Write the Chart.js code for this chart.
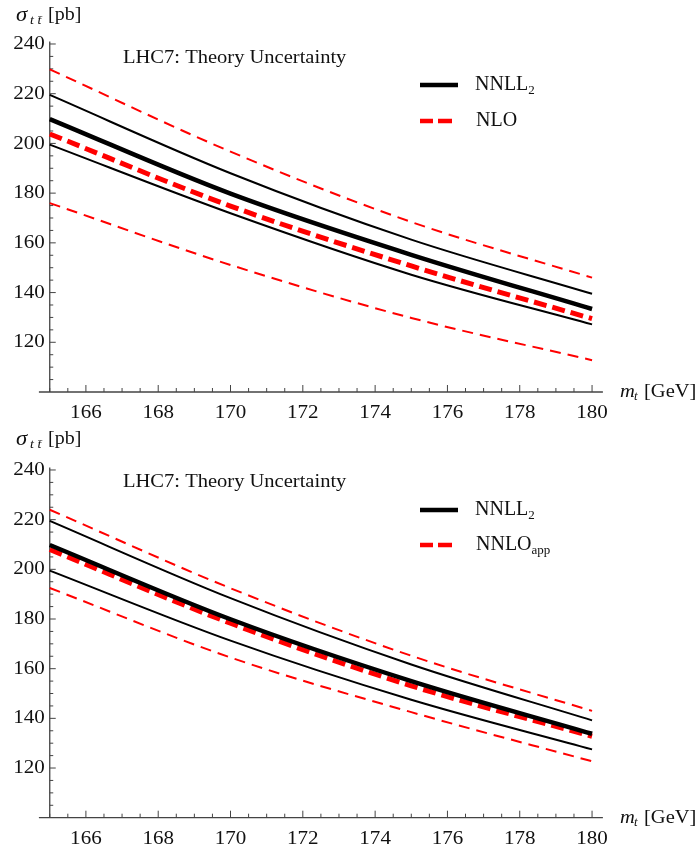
<!DOCTYPE html>
<html>
<head>
<meta charset="utf-8">
<script src="https://cdn.jsdelivr.net/npm/chart.js@4.4.1/dist/chart.umd.min.js"></script>
<style>
  body { margin: 0; background: #fff; }
  .panel { position: absolute; left: 0; width: 699px; }
</style>
</head>
<body>
<div class="panel" style="top:0;height:420px"><canvas id="topChart" width="699" height="420"></canvas></div>
<div class="panel" style="top:420px;height:429px"><canvas id="bottomChart" width="699" height="429"></canvas></div>
<script>
// top quark mass points (GeV) where the curves were read
var masses = [165, 170, 175, 180];
var xTicks = [166, 168, 170, 172, 174, 176, 178, 180];
var yTicks = [120, 140, 160, 180, 200, 220, 240];

// top panel: NNLL2 vs NLO
var nnllTop = [209.8, 179.8, 155.2, 133.4];
var nnllTopHigh = [219.5, 188.0, 161.3, 139.5];
var nnllTopLow = [199.5, 171.9, 147.2, 127.2];
var nlo = [203.8, 174.8, 150.7, 129.5];
var nloHigh = [229.8, 196.7, 168.4, 146.0];
var nloLow = [176.0, 151.1, 129.8, 112.8];

// bottom panel: NNLL2 vs NNLO_app
var nnllBot = [209.8, 179.9, 155.0, 133.8];
var nnllBotHigh = [219.5, 188.4, 161.7, 139.2];
var nnllBotLow = [199.5, 171.3, 147.5, 127.5];
var nnloApp = [208.0, 178.3, 153.1, 132.8];
var nnloAppHigh = [224.0, 192.4, 165.2, 143.0];
var nnloAppLow = [192.5, 164.5, 142.5, 122.7];

var SERIF = '"Liberation Serif", "DejaVu Serif", serif';
var STRETCH = 1.08;

function pts(vals) {
    return masses.map(function (m, i) { return { x: m, y: vals[i] }; });
}

function line(vals, color, width, dash) {
    return {
        data: pts(vals),
        borderColor: color,
        borderWidth: width,
        borderDash: dash || [],
        pointRadius: 0,
        fill: false,
        cubicInterpolationMode: 'monotone'
    };
}

function stretchedText(ctx, txt, x, y, size, style, align) {
    ctx.save();
    ctx.font = (style || '') + ' ' + size + 'px ' + SERIF;
    ctx.textBaseline = 'middle';
    ctx.textAlign = align || 'left';
    ctx.translate(x, y);
    ctx.scale(STRETCH, 1);
    ctx.fillText(txt, 0, 0);
    ctx.restore();
}

function axesPlugin(opts) {
    return {
        id: 'mmaAxes',
        beforeDatasetsDraw: function (chart) {
            var ctx = chart.ctx, xs = chart.scales.x, ys = chart.scales.y, area = chart.chartArea;
            var x0 = xs.getPixelForValue(165), y0 = ys.getPixelForValue(100);
            ctx.save();
            ctx.strokeStyle = '#444';
            ctx.lineWidth = 1.3;
            ctx.beginPath();
            ctx.moveTo(area.left, y0); ctx.lineTo(area.right, y0);
            ctx.moveTo(x0, area.top); ctx.lineTo(x0, y0);
            ctx.stroke();
            ctx.lineWidth = 1;
            ctx.beginPath();
            for (var v = 165; v <= 180.01; v += 0.5) {
                var px = xs.getPixelForValue(v);
                var len = xTicks.indexOf(v) >= 0 ? 7 : 4;
                ctx.moveTo(px, y0); ctx.lineTo(px, y0 - len);
            }
            for (var w = 105; w <= 240; w += 5) {
                var py = ys.getPixelForValue(w);
                var l2 = yTicks.indexOf(w) >= 0 ? 6 : 3.5;
                ctx.moveTo(x0, py); ctx.lineTo(x0 + l2, py);
            }
            ctx.stroke();
            ctx.fillStyle = '#111';
            xTicks.forEach(function (t) {
                stretchedText(ctx, String(t), xs.getPixelForValue(t), y0 + 21, 19.5, '', 'center');
            });
            yTicks.forEach(function (t) {
                stretchedText(ctx, String(t), x0 - 5, ys.getPixelForValue(t), 19.5, '', 'right');
            });
            ctx.restore();
        },
        afterDraw: function (chart) {
            var ctx = chart.ctx, ys = chart.scales.y;
            var y0 = ys.getPixelForValue(100);
            ctx.save();
            ctx.fillStyle = '#111';
            // y axis label: sigma_{t tbar} [pb]
            stretchedText(ctx, 'σ', 16, opts.labelY, 21, 'italic');
            stretchedText(ctx, 't t̄', 30, opts.labelY + 6, 13, 'italic');
            stretchedText(ctx, '[pb]', 48, opts.labelY, 18.5);
            // x axis label: m_t [GeV]
            stretchedText(ctx, 'm', 620, y0, 19, 'italic');
            stretchedText(ctx, 't', 634, y0 + 5, 12, 'italic');
            stretchedText(ctx, '[GeV]', 644, y0, 19);
            // title
            stretchedText(ctx, 'LHC7: Theory Uncertainty', 123, opts.titleY, 19);
            // legend
            ctx.lineCap = 'butt';
            ctx.strokeStyle = '#000';
            ctx.lineWidth = 4.5;
            ctx.beginPath();
            ctx.moveTo(420, opts.legY1); ctx.lineTo(458, opts.legY1);
            ctx.stroke();
            ctx.strokeStyle = '#ff0000';
            ctx.lineWidth = 4.5;
            ctx.beginPath();
            ctx.moveTo(420, opts.legY2); ctx.lineTo(433, opts.legY2);
            ctx.moveTo(438, opts.legY2); ctx.lineTo(452, opts.legY2);
            ctx.stroke();
            ctx.fillStyle = '#111';
            ctx.font = '20px ' + SERIF;
            ctx.textBaseline = 'middle';
            ctx.fillText('NNLL', 475, opts.legY1);
            var w1 = ctx.measureText('NNLL').width;
            ctx.font = '13px ' + SERIF;
            ctx.fillText('2', 475 + w1, opts.legY1 + 6);
            ctx.font = '20px ' + SERIF;
            ctx.fillText(opts.redLabel, 476, opts.legY2);
            if (opts.redSub) {
                var w2 = ctx.measureText(opts.redLabel).width;
                ctx.font = '13px ' + SERIF;
                ctx.fillText(opts.redSub, 476 + w2, opts.legY2 + 6);
            }
            ctx.restore();
        }
    };
}

function makePanel(id, sets, pad, opts) {
    var ctx = document.getElementById(id).getContext('2d');
    return new Chart(ctx, {
        type: 'line',
        data: { datasets: sets },
        options: {
            responsive: false,
            animation: false,
            devicePixelRatio: 1,
            layout: { padding: pad },
            plugins: { legend: { display: false }, tooltip: { enabled: false } },
            scales: {
                x: { type: 'linear', display: false, min: 164.7, max: 180.3 },
                y: { type: 'linear', display: false, min: 100, max: 241 }
            }
        },
        plugins: [axesPlugin(opts)]
    });
}

makePanel('topChart', [
    line(nnllTopHigh, '#000', 2),
    line(nnllTopLow, '#000', 2),
    line(nnllTop, '#000', 4.5),
    line(nloHigh, '#ff0000', 2, [11, 7]),
    line(nloLow, '#ff0000', 2, [11, 7]),
    line(nlo, '#ff0000', 5, [13, 6])
], { left: 38.9, right: 96.1, top: 41.5, bottom: 28 },
   { labelY: 15, titleY: 58, legY1: 85, legY2: 121, redLabel: 'NLO' });

makePanel('bottomChart', [
    line(nnllBotHigh, '#000', 2),
    line(nnllBotLow, '#000', 2),
    line(nnllBot, '#000', 4.5),
    line(nnloAppHigh, '#ff0000', 2, [11, 7]),
    line(nnloAppLow, '#ff0000', 2, [11, 7]),
    line(nnloApp, '#ff0000', 5, [13, 6])
], { left: 38.9, right: 96.1, top: 47.5, bottom: 31.3 },
   { labelY: 19, titleY: 62, legY1: 90, legY2: 125, redLabel: 'NNLO', redSub: 'app' });
</script>
</body>
</html>
